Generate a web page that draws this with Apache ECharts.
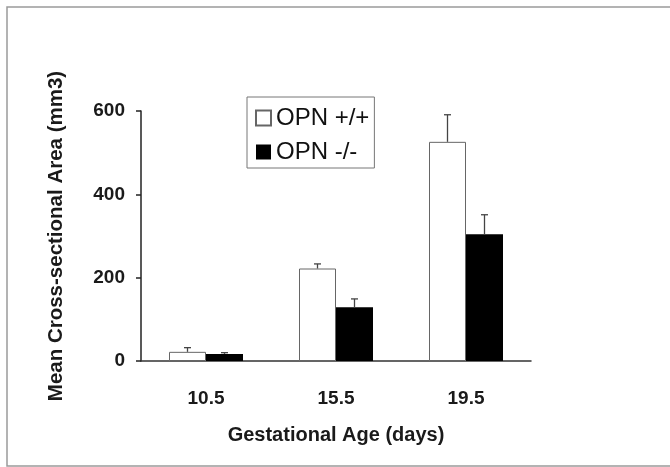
<!DOCTYPE html>
<html>
<head>
<meta charset="utf-8">
<script src="https://cdn.jsdelivr.net/npm/echarts@6/dist/echarts.min.js"></script>
<style>
html,body{margin:0;padding:0;background:#fff;}
#chart{width:670px;height:467px;}
</style>
</head>
<body>
<div id="chart"></div>
<script>
// Data
const categories = ['10.5', '15.5', '19.5'];
const seriesNames = ['OPN +/+', 'OPN -/-'];
const meanWT = [22, 222, 526];
const meanKO = [17, 129, 304];
const errWT = [10, 11, 65];
const errKO = [3, 20, 47];
const yTicks = [0, 200, 400, 600];

const FONT = '"Liberation Sans", Arial, Helvetica, sans-serif';
const BAR_W = 37;

function errData(means, errs) {
  return means.map((m, i) => [i, m, errs[i]]);
}
function errSeries(name, means, errs, side) {
  return {
    type: 'custom',
    name: name + ' err',
    data: errData(means, errs),
    z: 5,
    silent: true,
    renderItem: function (params, api) {
      const idx = api.value(0);
      const base = api.coord([idx, api.value(1)]);
      const top = api.coord([idx, api.value(1) + api.value(2)]);
      const x = base[0] + side * BAR_W / 2;
      const capHalf = 3.5;
      const style = { stroke: '#444', lineWidth: 1.3, fill: null };
      return {
        type: 'group',
        children: [
          { type: 'line', shape: { x1: x, y1: base[1], x2: x, y2: top[1] }, style: style },
          { type: 'line', shape: { x1: x - capHalf, y1: top[1], x2: x + capHalf, y2: top[1] }, style: style }
        ]
      };
    }
  };
}

const chart = echarts.init(document.getElementById('chart'));
chart.setOption({
  backgroundColor: '#fff',
  animation: false,
  graphic: [{
    type: 'polyline',
    shape: { points: [[760, 7], [7, 7], [7, 466], [760, 466]] },
    style: { fill: null, stroke: '#9a9a9a', lineWidth: 1.5 },
    z: 0
  }],
  grid: { left: 141, right: 139, top: 111, bottom: 106 },
  legend: {
    data: seriesNames,
    orient: 'vertical',
    left: 247,
    top: 97,
    itemWidth: 15,
    itemHeight: 15,
    itemGap: 10,
    padding: [9, 5, 4, 8],
    borderColor: '#777',
    borderWidth: 1,
    backgroundColor: '#fff',
    textStyle: { fontFamily: FONT, fontSize: 24, color: '#111' },
    icon: 'rect'
  },
  xAxis: {
    type: 'category',
    data: categories,
    name: 'Gestational Age (days)',
    nameLocation: 'middle',
    nameGap: 64,
    nameTextStyle: { fontFamily: FONT, fontSize: 20, fontWeight: 'bold', color: '#1a1a1a' },
    axisLine: { lineStyle: { color: '#333', width: 1.5 } },
    axisTick: { show: false },
    axisLabel: { fontFamily: FONT, fontSize: 19, fontWeight: 'bold', color: '#1a1a1a', margin: 28 }
  },
  yAxis: {
    type: 'value',
    min: 0,
    max: 600,
    interval: 200,
    name: 'Mean Cross-sectional Area (mm3)',
    nameLocation: 'middle',
    nameGap: 74,
    nameRotate: 90,
    nameTextStyle: { fontFamily: FONT, fontSize: 20.5, fontWeight: 'bold', color: '#1a1a1a' },
    splitLine: { show: false },
    axisLine: { show: true, lineStyle: { color: '#222', width: 1.5 } },
    axisTick: { show: true, length: 5, lineStyle: { color: '#222', width: 1.5 } },
    axisLabel: {
      fontFamily: FONT, fontSize: 19, fontWeight: 'bold', color: '#1a1a1a', margin: 16,
      formatter: function (v) { return yTicks.indexOf(v) >= 0 ? String(v) : ''; }
    }
  },
  series: [
    {
      name: seriesNames[0],
      type: 'bar',
      data: meanWT,
      barWidth: BAR_W,
      barGap: '0%',
      itemStyle: { color: '#ffffff', borderColor: '#666', borderWidth: 1 }
    },
    {
      name: seriesNames[1],
      type: 'bar',
      data: meanKO,
      barWidth: BAR_W,
      barGap: '0%',
      itemStyle: { color: '#000000', borderColor: '#000', borderWidth: 0 }
    },
    errSeries(seriesNames[0], meanWT, errWT, -1),
    errSeries(seriesNames[1], meanKO, errKO, 1)
  ]
});
</script>
</body>
</html>
